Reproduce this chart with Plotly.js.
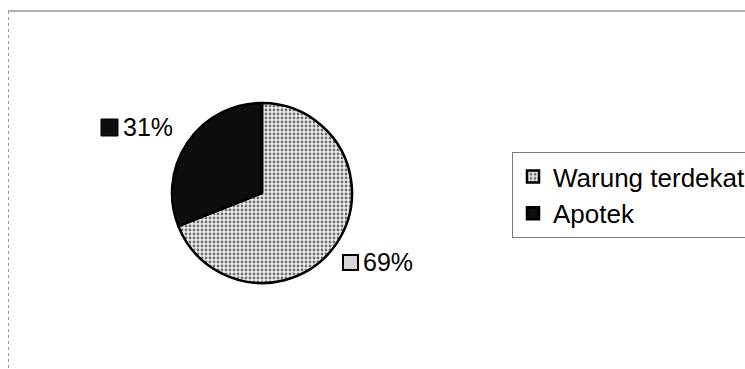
<!DOCTYPE html>
<html>
<head>
<meta charset="utf-8">
<script src="https://cdn.plot.ly/plotly-3.0.1.min.js"></script>
<style>html,body{margin:0;padding:0;background:#fff;}#chart{width:745px;height:369px;}</style>
</head>
<body>
<div id="chart"></div>
<script>
const categories = ["Warung terdekat", "Apotek"];
const values = [69, 31];
const sliceColors = ["#e4e4e4", "#0d0d0d"];

const total = values.reduce((a, b) => a + b, 0);
const pct = values.map(v => Math.round(v / total * 100) + "%");

const trace = {
  type: "pie",
  labels: categories,
  values: values,
  sort: false,
  direction: "clockwise",
  rotation: 0,
  textinfo: "none",
  hoverinfo: "label+percent",
  marker: {
    colors: sliceColors,
    line: {color: "#000", width: 2.5},
    pattern: {
      shape: [".", ""],
      fgcolor: ["#6e6e6e", "#0d0d0d"],
      bgcolor: ["#f0f0f0", "#0d0d0d"],
      size: 4,
      solidity: 0.4
    }
  },
  domain: {x: [171/745, 353/745], y: [1 - 283/369, 1 - 103/369]},
  showlegend: true
};

const fontFam = "Arial, 'Liberation Sans', sans-serif";

const layout = {
  width: 745, height: 369,
  margin: {l: 0, r: 0, t: 0, b: 0, autoexpand: false},
  paper_bgcolor: "#fff",
  plot_bgcolor: "#fff",
  showlegend: true,
  legend: {
    x: 512/745, y: 1 - 152/369, xanchor: "left", yanchor: "top",
    bordercolor: "#7a7a7a", borderwidth: 1, bgcolor: "#fff",
    font: {family: fontFam, size: 26, color: "#000"},
    itemwidth: 30
  },
  annotations: [
    {xref: "paper", yref: "paper", x: 121/745, y: 1 - 127/369, xanchor: "left", yanchor: "middle",
     text: pct[1], showarrow: false, font: {family: fontFam, size: 25, color: "#000"}},
    {xref: "paper", yref: "paper", x: 361/745, y: 1 - 262/369, xanchor: "left", yanchor: "middle",
     text: pct[0], showarrow: false, font: {family: fontFam, size: 25, color: "#000"}}
  ],
  shapes: [
    {type: "line", xref: "paper", yref: "paper", x0: 8/745, x1: 1, y0: 1 - 11/369, y1: 1 - 11/369,
     line: {color: "#666", width: 1}},
    {type: "line", xref: "paper", yref: "paper", x0: 8.5/745, x1: 8.5/745, y0: 1 - 11/369, y1: 0,
     line: {color: "#999", width: 1, dash: "dot"}},
    {type: "rect", xref: "paper", yref: "paper", x0: 101/745, x1: 118/745, y0: 1 - 136/369, y1: 1 - 119/369,
     fillcolor: "#0d0d0d", line: {color: "#000", width: 1}},
    {type: "rect", xref: "paper", yref: "paper", x0: 343/745, x1: 358/745, y0: 1 - 270/369, y1: 1 - 255/369,
     fillcolor: "#d8d8d8", line: {color: "#000", width: 2}}
  ]
};

Plotly.newPlot("chart", [trace], layout, {staticPlot: true, displayModeBar: false});
</script>
</body>
</html>
